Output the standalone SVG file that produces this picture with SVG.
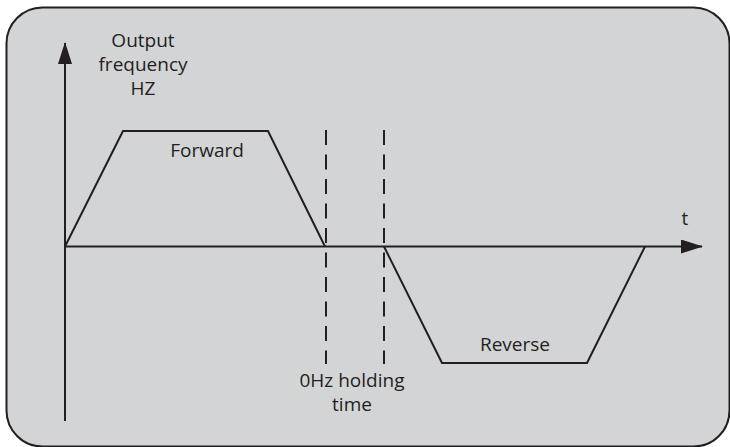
<svg xmlns="http://www.w3.org/2000/svg" width="730" height="447" viewBox="0 0 730 447">
<style>
.ln{fill:none;stroke:#231f20;stroke-width:2}
.dash{fill:none;stroke:#231f20;stroke-width:2;stroke-dasharray:15 9.5}
.tx{font-family:"Open Sans","Noto Sans",sans-serif;font-size:19px;fill:#231f20;text-anchor:middle}
</style>
<defs>
<marker id="arr" viewBox="0 0 22 14" refX="21" refY="7" markerWidth="22" markerHeight="14" markerUnits="userSpaceOnUse" orient="auto">
<path d="M0,0 L22,7 L0,14 Z" fill="#231f20"/>
</marker>
</defs>
<rect x="0" y="0" width="730" height="447" fill="#ffffff"/>
<rect id="frame" x="6.5" y="7.5" width="723" height="439" rx="36" ry="36" fill="#d3d4d6" stroke="#231f20" stroke-width="2"/>
<g id="connectors">
<line id="y-axis" class="ln" x1="65" y1="421" x2="65" y2="43" marker-end="url(#arr)"/>
<line id="x-axis" class="ln" x1="64" y1="246.5" x2="702" y2="246.5" marker-end="url(#arr)"/>
<polyline id="forward-curve" class="ln" points="65,246.5 123,131 268,131 325,246.5"/>
<polyline id="reverse-curve" class="ln" points="384,246.5 442,363 587,363 645,246.5"/>
<line id="dash1" class="dash" x1="326" y1="130" x2="326" y2="364"/>
<line id="dash2" class="dash" x1="384" y1="130" x2="384" y2="364"/>
</g>
<g id="label-yaxis">
<text class="tx" x="143" y="47">Output</text>
<text class="tx" x="143" y="71">frequency</text>
<text class="tx" x="143" y="95">HZ</text>
</g>
<g id="label-forward"><text class="tx" x="207" y="157">Forward</text></g>
<g id="label-t"><text class="tx" x="685" y="225">t</text></g>
<g id="label-reverse"><text class="tx" x="515" y="351">Reverse</text></g>
<g id="label-holding">
<text class="tx" x="352" y="387">0Hz holding</text>
<text class="tx" x="352" y="411">time</text>
</g>
</svg>
